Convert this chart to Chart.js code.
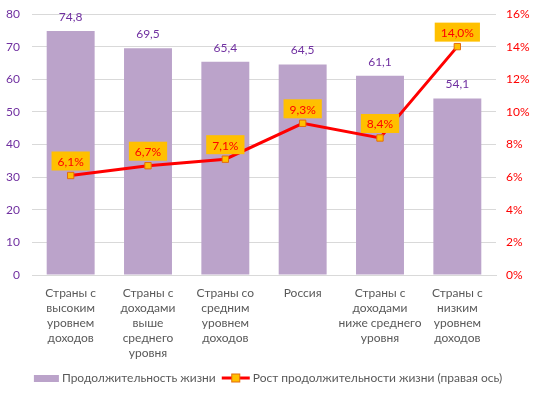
<!DOCTYPE html>
<html>
<head>
<meta charset="utf-8">
<script src="https://cdn.jsdelivr.net/npm/chart.js@4"></script>
<style>
  html, body { margin: 0; padding: 0; background: #fff; }
  #wrap { width: 536px; height: 398px; }
</style>
</head>
<body>
<div id="wrap"><canvas id="chart"></canvas></div>
<script>
const categories = [
  ['Страны с', 'высоким', 'уровнем', 'доходов'],
  ['Страны с', 'доходами', 'выше', 'среднего', 'уровня'],
  ['Страны со', 'средним', 'уровнем', 'доходов'],
  ['Россия'],
  ['Страны с', 'доходами', 'ниже среднего', 'уровня'],
  ['Страны с', 'низким', 'уровнем', 'доходов']
];
const lifeExpectancy = [74.8, 69.5, 65.4, 64.5, 61.1, 54.1];
const growth = [6.1, 6.7, 7.1, 9.3, 8.4, 14.0];
const seriesNames = ['Продолжительность жизни', 'Рост продолжительности жизни (правая ось)'];

const FONT = 'Lato, "Open Sans", sans-serif';
const fmt = v => v.toFixed(1).replace('.', ',');

// value labels for bars and the line
const labelPlugin = {
  id: 'valueLabels',
  afterDatasetsDraw(chart) {
    const ctx = chart.ctx;
    ctx.save();
    ctx.font = '12px ' + FONT;
    ctx.textAlign = 'center';
    ctx.textBaseline = 'middle';
    chart.getDatasetMeta(1).data.forEach((bar, i) => {
      ctx.fillStyle = '#7030A0';
      ctx.fillText(fmt(lifeExpectancy[i]), bar.x, bar.y - 14);
    });
    chart.getDatasetMeta(0).data.forEach((pt, i) => {
      const txt = fmt(growth[i]) + '%';
      const w = ctx.measureText(txt).width + 12;
      const h = 19;
      const bx = pt.x - w / 2, by = pt.y - 5 - h;
      ctx.fillStyle = '#FFC000';
      ctx.fillRect(bx, by, w, h);
      ctx.fillStyle = '#FF0000';
      ctx.fillText(txt, pt.x, by + h / 2 + 1);
    });
    ctx.restore();
  }
};

// legend drawn at the bottom
const legendPlugin = {
  id: 'bottomLegend',
  afterDraw(chart) {
    const ctx = chart.ctx;
    ctx.save();
    ctx.font = '12px ' + FONT;
    ctx.textBaseline = 'middle';
    const y = 378;
    const w1 = ctx.measureText(seriesNames[0]).width;
    const w2 = ctx.measureText(seriesNames[1]).width;
    const total = 25 + 3 + w1 + 6 + 28 + 3 + w2;
    let x = (chart.width - total) / 2;
    ctx.fillStyle = '#BBA3CA';
    ctx.fillRect(x, y - 3, 25, 7);
    x += 28;
    ctx.fillStyle = '#595959';
    ctx.fillText(seriesNames[0], x, y);
    x += w1 + 6;
    ctx.strokeStyle = '#FF0000';
    ctx.lineWidth = 3;
    ctx.beginPath();
    ctx.moveTo(x, y);
    ctx.lineTo(x + 28, y);
    ctx.stroke();
    ctx.fillStyle = '#FFC000';
    ctx.fillRect(x + 10, y - 4, 8, 8);
    ctx.strokeStyle = '#E46C0A';
    ctx.lineWidth = 1;
    ctx.strokeRect(x + 10, y - 4, 8, 8);
    x += 31;
    ctx.fillStyle = '#595959';
    ctx.fillText(seriesNames[1], x, y);
    ctx.restore();
  }
};

new Chart(document.getElementById('chart'), {
  data: {
    labels: categories,
    datasets: [
      {
        type: 'line',
        label: seriesNames[1],
        data: growth,
        yAxisID: 'y1',
        borderColor: '#FF0000',
        borderWidth: 3,
        pointStyle: 'rect',
        pointRadius: 4.5,
        pointBackgroundColor: '#FFC000',
        pointBorderColor: '#E46C0A',
        pointBorderWidth: 1,
        tension: 0,
        order: 0
      },
      {
        type: 'bar',
        label: seriesNames[0],
        data: lifeExpectancy,
        yAxisID: 'y',
        backgroundColor: '#BBA3CA',
        categoryPercentage: 1,
        barPercentage: 0.62,
        order: 1
      }
    ]
  },
  plugins: [labelPlugin, legendPlugin],
  options: {
    responsive: true,
    maintainAspectRatio: false,
    animation: false,
    layout: { padding: { top: 14, left: 0, right: 0, bottom: 0 } },
    plugins: {
      legend: { display: false },
      tooltip: { enabled: false }
    },
    scales: {
      x: {
        grid: { display: false },
        border: { display: true, color: '#D9D9D9' },
        ticks: {
          color: '#595959',
          font: { family: FONT, size: 12, lineHeight: 1.25 },
          maxRotation: 0,
          autoSkip: false,
          padding: 3
        },
        afterFit(s) { s.height = 123; }
      },
      y: {
        position: 'left',
        min: 0, max: 80,
        ticks: { stepSize: 10, color: '#7030A0', font: { family: FONT, size: 12 }, padding: 12 },
        grid: { color: '#D9D9D9', drawTicks: false },
        border: { display: false },
        afterFit(s) { s.width = 32; s.paddingTop = 0; s.paddingBottom = 0; }
      },
      y1: {
        position: 'right',
        min: 0, max: 16,
        ticks: {
          stepSize: 2,
          color: '#FF0000',
          font: { family: FONT, size: 12 },
          padding: 10,
          callback: v => v + '%'
        },
        grid: { display: false, drawTicks: false },
        border: { display: false },
        afterFit(s) { s.width = 40; s.paddingTop = 0; s.paddingBottom = 0; }
      }
    }
  }
});
</script>
</body>
</html>
